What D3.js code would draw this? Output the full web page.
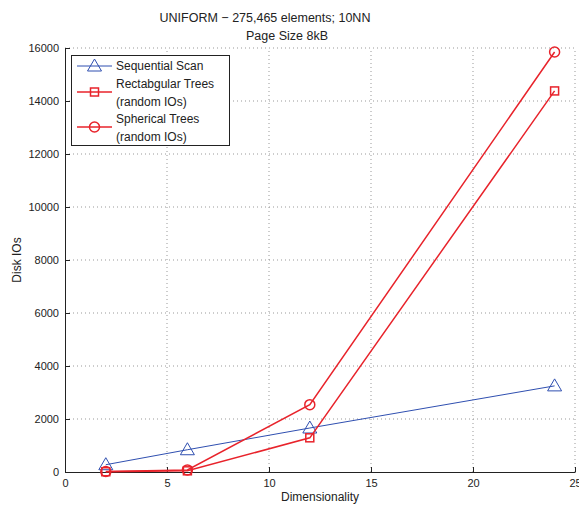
<!DOCTYPE html>
<html>
<head>
<meta charset="utf-8">
<script src="https://cdn.jsdelivr.net/npm/d3@7"></script>
<style>
  body { margin: 0; background: #fff; }
  svg { display: block; font-family: "Liberation Sans", Arial, sans-serif; }
</style>
</head>
<body>
<svg id="chart" width="579" height="506"></svg>
<script>
// Dimensionality values and disk IO counts per method
const dims = [2, 6, 12, 24];
const sequentialScan = [275, 840, 1660, 3250];
const rectTrees = [10, 45, 1290, 14380];
const sphericalTrees = [20, 80, 2540, 15850];

const xTicks = [0, 5, 10, 15, 20, 25];
const yTicks = [0, 2000, 4000, 6000, 8000, 10000, 12000, 14000, 16000];

const titleLines = ["UNIFORM \u2212 275,465 elements; 10NN", "Page Size 8kB"];
const legendLabels = [["Sequential Scan"], ["Rectabgular Trees", "(random IOs)"], ["Spherical Trees", "(random IOs)"]];

const svg = d3.select("#chart");
const m = { left: 65, right: 4, top: 48, bottom: 34 };
const W = 579, H = 506;

const x = d3.scaleLinear().domain([0, 25]).range([m.left, W - m.right]);
const y = d3.scaleLinear().domain([0, 16000]).range([H - m.bottom, m.top]);

const blue = "#2f4fb0", red = "#e8232b";

// grid
const grid = svg.append("g").attr("stroke", "#999").attr("stroke-width", 1)
  .attr("stroke-dasharray", "1,3");
xTicks.filter(d => d > 0).forEach(d => {
  grid.append("line").attr("x1", x(d)).attr("x2", x(d)).attr("y1", y(0)).attr("y2", y(16000));
});
yTicks.filter(d => d > 0).forEach(d => {
  grid.append("line").attr("x1", x(0)).attr("x2", x(25)).attr("y1", y(d)).attr("y2", y(d));
});

// axes with inward ticks
const xAxis = svg.append("g").attr("transform", `translate(0,${y(0)})`)
  .call(d3.axisBottom(x).tickValues(xTicks).tickSizeInner(-5).tickSizeOuter(0).tickPadding(8));
const yAxis = svg.append("g").attr("transform", `translate(${x(0)},0)`)
  .call(d3.axisLeft(y).tickValues(yTicks).tickSizeInner(-5).tickSizeOuter(0).tickPadding(6).tickFormat(d3.format("d")));
[xAxis, yAxis].forEach(a => {
  a.selectAll("text").attr("font-size", 11).attr("fill", "#222")
    .attr("font-family", "'Liberation Sans', Arial, sans-serif");
  a.selectAll("line").attr("stroke", "#222");
  a.select(".domain").attr("stroke", "#222");
});
xAxis.selectAll("text").attr("dy", "0.6em");

// axis labels
svg.append("text").attr("x", x(12.5)).attr("y", 501).attr("text-anchor", "middle")
  .attr("font-size", 12).attr("fill", "#222").text("Dimensionality");
svg.append("text").attr("transform", `translate(21,${y(8000)}) rotate(-90)`)
  .attr("text-anchor", "middle").attr("font-size", 12).attr("fill", "#222").text("Disk IOs");

// title
svg.append("text").attr("x", 265).attr("y", 22).attr("text-anchor", "middle")
  .attr("font-size", 12.5).attr("fill", "#222").text(titleLines[0]);
svg.append("text").attr("x", 287).attr("y", 40).attr("text-anchor", "middle")
  .attr("font-size", 12.5).attr("fill", "#222").text(titleLines[1]);

const line = d3.line().x(d => x(d[0])).y(d => y(d[1]));

function triangle(g, cx, cy, color) {
  g.append("path").attr("d", `M${cx},${cy - 7}L${cx + 7},${cy + 5}L${cx - 7},${cy + 5}Z`)
    .attr("fill", "none").attr("stroke", color).attr("stroke-width", 1);
}
function square(g, cx, cy, color) {
  g.append("rect").attr("x", cx - 4).attr("y", cy - 4).attr("width", 8).attr("height", 8)
    .attr("fill", "none").attr("stroke", color).attr("stroke-width", 1.5);
}
function circle(g, cx, cy, color) {
  g.append("circle").attr("cx", cx).attr("cy", cy).attr("r", 5)
    .attr("fill", "none").attr("stroke", color).attr("stroke-width", 1.5);
}

const series = [
  { vals: sequentialScan, color: blue, width: 1, marker: triangle },
  { vals: rectTrees, color: red, width: 1.5, marker: square },
  { vals: sphericalTrees, color: red, width: 1.5, marker: circle }
];

series.forEach(s => {
  const pts = dims.map((d, i) => [d, s.vals[i]]);
  const g = svg.append("g");
  g.append("path").attr("d", line(pts)).attr("fill", "none")
    .attr("stroke", s.color).attr("stroke-width", s.width);
  pts.forEach(p => s.marker(g, x(p[0]), y(p[1]), s.color));
});

// legend
const lg = svg.append("g");
lg.append("rect").attr("x", 71.5).attr("y", 55.5).attr("width", 158).attr("height", 90)
  .attr("fill", "#fff").attr("stroke", "#222").attr("stroke-width", 1);
const rowsY = [66, 92, 127];
series.forEach((s, i) => {
  lg.append("line").attr("x1", 77).attr("x2", 112).attr("y1", rowsY[i]).attr("y2", rowsY[i])
    .attr("stroke", s.color).attr("stroke-width", s.width);
  s.marker(lg, 94.5, rowsY[i], s.color);
  const lines = legendLabels[i];
  lines.forEach((t, j) => {
    const yy = lines.length === 1 ? rowsY[i] + 4 : rowsY[i] - 4.5 + j * 18;
    lg.append("text").attr("x", 116).attr("y", yy).attr("font-size", 12).attr("fill", "#222").text(t);
  });
});
</script>
</body>
</html>
